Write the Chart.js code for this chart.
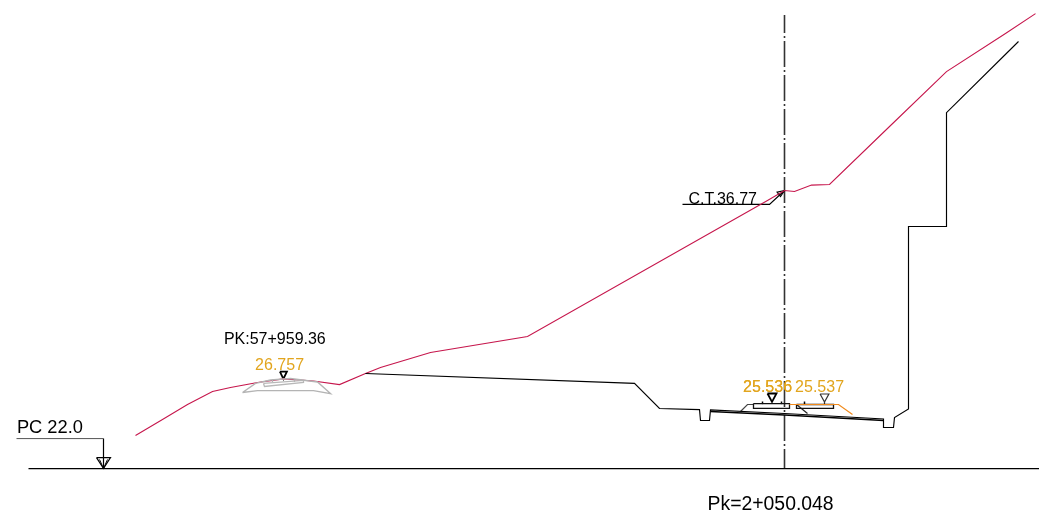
<!DOCTYPE html>
<html>
<head>
<meta charset="utf-8">
<title>Pk=2+050.048</title>
<script src="https://cdn.jsdelivr.net/npm/chart.js@4/dist/chart.umd.min.js"></script>
<style>
    html, body { margin: 0; padding: 0; background: #fff; }
    canvas { display: block; }
</style>
</head>
<body>
<canvas id="sectionChart" width="1039" height="518"></canvas>
<script>
// every list: offset from the axis (x) and elevation in metres (e)
const terrainX = [-32.45, -31.10, -29.85, -28.60, -27.70, -26.35, -25.05, -23.55, -22.25, -20.95, -20.20, -17.70, -12.85, -0.85, 0, 0.50, 1.35, 2.25, 5.20, 8.10, 11.05, 12.55];
const terrainE = [23.75, 24.60, 25.40, 26.09, 26.30, 26.57, 26.76, 26.65, 26.46, 27.05, 27.37, 28.16, 29.01, 36.24, 36.77, 36.72, 37.06, 37.09, 40.12, 43.09, 45.11, 46.17];

const profileX = [-20.95, -7.50, -6.25, -4.25, -4.20, -3.75, -3.70, 0, 4.95, 4.95, 5.45, 5.50, 6.20, 6.20, 8.10, 8.10, 11.70];
const profileE = [27.05, 26.52, 25.19, 25.13, 24.55, 24.55, 25.11, 24.92, 24.63, 24.18, 24.18, 24.71, 25.16, 34.86, 34.86, 40.91, 44.69];

const roadX = [-3.70, 0, 4.95];
const roadE = [25.03, 24.84, 24.55];

const slabLeftX = [-1.55, 0.25, 0.25, -1.55, -1.55];
const slabLeftE = [25.45, 25.45, 25.19, 25.19, 25.45];
const slabRightX = [0.60, 2.45, 2.45, 0.60, 0.60];
const slabRightE = [25.40, 25.40, 25.19, 25.19, 25.40];
const shoulderLeftX = [-2.20, -1.85, -1.55];
const shoulderLeftE = [25.03, 25.40, 25.40];
const shoulderRightX = [0.60, 1.15];
const shoulderRightE = [25.40, 24.92];
const railAX = [-1.10, -1.10];
const railBX = [-0.15, -0.15];
const railCX = [1.00, 1.00];
const railE = [25.42, 25.56];

const orangeX = [0.25, 2.70, 3.40];
const orangeE = [25.40, 25.40, 24.87];

const oldOutlineX = [-27.10, -26.45, -25.70, -24.70, -23.35, -22.70, -23.55, -26.35, -27.10];
const oldOutlineE = [26.04, 26.52, 26.70, 26.78, 26.60, 25.98, 26.14, 26.14, 26.04];
const oldSlabX = [-26.05, -24.05, -24.05, -26.00, -26.05];
const oldSlabE = [26.52, 26.68, 26.57, 26.36, 26.52];
const oldRailAX = [-25.60, -25.60];
const oldRailBX = [-24.50, -24.50];
const oldRailE = [26.73, 26.60];

const mark1X = [-0.85, -0.40, -0.625, -0.85];
const mark1E = [25.985, 25.985, 25.536, 25.985];
const mark2X = [1.78, 2.22, 2.00, 1.78];
const mark2E = [25.96, 25.96, 25.537, 25.96];
const mark2StemX = [2.00, 2.00];
const mark2StemE = [25.537, 25.40];
const mark3X = [-25.23, -24.88, -25.055, -25.23];
const mark3E = [27.15, 27.15, 26.757, 27.15];

const pcLeaderX = [-38.40, -34.05];
const pcLeaderE = [23.59, 23.59];
const pcStemX = [-34.05, -34.05];
const pcStemE = [23.59, 22.0];
const pcMarkX = [-34.40, -33.70, -34.05, -34.40];
const pcMarkE = [22.58, 22.58, 22.0, 22.58];
const pcInnerX = [-34.25, -34.05, -33.85];
const pcInnerE = [22.48, 22.0, 22.48];

const ctLeaderX = [-5.10, -0.75, 0];
const ctLeaderE = [36.03, 36.03, 36.77];
const ctArrowX = [0, -0.37, -0.20, 0];
const ctArrowE = [36.77, 36.68, 36.45, 36.77];

const baseX = [-37.80, 12.725];
const baseE = [22.0, 22.0];
const axisX = [0, 0];
const axisE = [46.10, 22.0];

const labelTexts = ['PK:57+959.36', '26.757', '25.536', '25.536', '25.537', 'C.T.36.77', 'PC 22.0', 'Pk=2+050.048'];
const labelX = [-28.03, -26.47, -2.07, -2.07, 0.53, -4.80, -38.38, -3.85];
const labelE = [28.64, 27.21, 26.04, 26.04, 26.04, 36.06, 23.86, 19.77];

const BLACK = '#000000';
const GOLD = '#e2a51e';
const labelColors = [BLACK, GOLD, GOLD, GOLD, GOLD, BLACK, BLACK, BLACK];
const labelSizes = [16, 16, 16, 16, 16, 16, 18.3, 19.4];

const line = (xs, es, color, width, dash) => ({
    data: xs.map((x, i) => ({ x: x, y: es[i] })),
    showLine: true,
    borderColor: color,
    borderWidth: width,
    borderDash: dash ? dash.pattern : [],
    borderDashOffset: dash ? dash.offset : 0,
    pointRadius: 0,
    tension: 0,
    fill: false
});

// texts are drawn on the canvas at their data position
const sectionLabels = {
    id: 'sectionLabels',
    afterDatasetsDraw(chart) {
        const ctx = chart.ctx;
        ctx.save();
        ctx.textAlign = 'left';
        ctx.textBaseline = 'alphabetic';
        labelTexts.forEach((text, i) => {
            ctx.font = `${labelSizes[i]}px "Liberation Sans", Arial, sans-serif`;
            ctx.fillStyle = labelColors[i];
            ctx.fillText(text, chart.scales.x.getPixelForValue(labelX[i]), chart.scales.y.getPixelForValue(labelE[i]));
        });
        ctx.restore();
    }
};

new Chart(document.querySelector('#sectionChart').getContext('2d'), {
    type: 'scatter',
    data: {
        datasets: [
            line(orangeX, orangeE, '#f08a1c', 1.2),
            line(oldOutlineX, oldOutlineE, '#b4b4b4', 1.4),
            line(oldSlabX, oldSlabE, '#b8b8b8', 1.3),
            line(oldRailAX, oldRailE, '#b4b4b4', 1.3),
            line(oldRailBX, oldRailE, '#b4b4b4', 1.3),
            line(profileX, profileE, BLACK, 1.15),
            line(roadX, roadE, BLACK, 1.6),
            line(slabLeftX, slabLeftE, '#111111', 1.3),
            line(slabRightX, slabRightE, '#111111', 1.3),
            line(shoulderLeftX, shoulderLeftE, '#444444', 1.2),
            line(shoulderRightX, shoulderRightE, '#222222', 1.2),
            line(railAX, railE, BLACK, 1.5),
            line(railBX, railE, BLACK, 1.5),
            line(railCX, railE, BLACK, 1.5),
            line(terrainX, terrainE, '#c6164c', 1.1),
            line(mark1X, mark1E, BLACK, 1.8),
            line(mark2X, mark2E, '#333333', 1.2),
            line(mark2StemX, mark2StemE, '#333333', 1.2),
            line(mark3X, mark3E, BLACK, 1.8),
            line(pcLeaderX, pcLeaderE, '#555555', 1),
            line(pcStemX, pcStemE, BLACK, 1.2),
            line(pcMarkX, pcMarkE, BLACK, 1.2),
            line(pcInnerX, pcInnerE, BLACK, 1),
            line(ctLeaderX, ctLeaderE, BLACK, 1.2),
            line(ctArrowX, ctArrowE, BLACK, 1.2),
            line(baseX, baseE, BLACK, 1.25),
            line(axisX, axisE, '#333333', 1.6, { pattern: [26, 3, 2, 3], offset: 8 })
        ]
    },
    options: {
        responsive: false,
        animation: false,
        layout: { padding: 0 },
        plugins: {
            legend: { display: false },
            tooltip: { enabled: false }
        },
        scales: {
            x: { type: 'linear', display: false, min: -39.225, max: 12.725 },
            y: { type: 'linear', display: false, min: 19.370, max: 46.894 }
        }
    },
    plugins: [sectionLabels]
});
</script>
</body>
</html>
